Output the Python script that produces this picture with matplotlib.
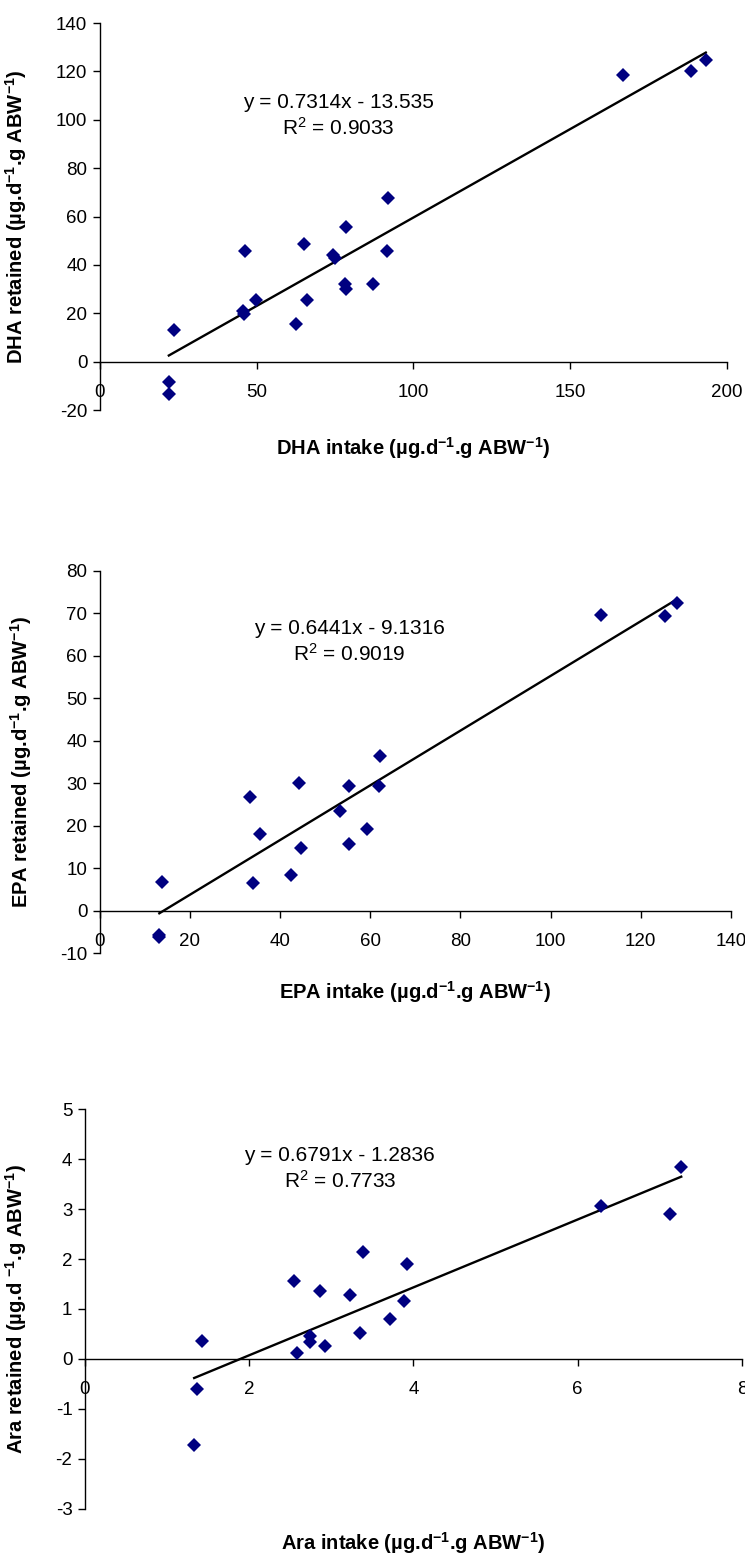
"""Retained vs intake of DHA, EPA and Ara with linear fits."""

import matplotlib

matplotlib.use("Agg")
import matplotlib.pyplot as plt
import numpy as np

plt.rcParams["font.family"] = ["Liberation Sans", "DejaVu Sans"]
plt.rcParams["mathtext.default"] = "regular"
plt.rcParams["axes.unicode_minus"] = False

# DHA (ug per day per g ABW)
dha_intake = [22.0, 22.0, 23.7, 46.4, 46.1, 45.5, 49.7, 62.7, 65.2, 66.0, 75.0,
              74.5, 78.5, 78.5, 78.3, 87.1, 91.6, 92.0, 166.8, 188.6, 193.2]
dha_retained = [-8.6, -13.2, 13.2, 45.7, 19.8, 21.0, 25.3, 15.4, 48.5, 25.3, 42.8,
                44.0, 55.5, 30.2, 32.0, 32.3, 45.7, 67.5, 118.4, 120.1, 124.7]
dha_fit = (0.7314, -13.535, 0.9033)

# EPA
epa_intake = [13.2, 13.2, 13.8, 33.3, 33.9, 35.6, 42.4, 44.1, 44.7, 53.2, 55.3,
              55.3, 59.2, 61.9, 62.2, 111.1, 125.4, 128.0]
epa_retained = [-5.7, -6.3, 6.8, 26.8, 6.4, 18.0, 8.4, 30.1, 14.8, 23.5, 29.3,
                15.7, 19.2, 29.3, 36.4, 69.6, 69.4, 72.4]
epa_fit = (0.6441, -9.1316, 0.9019)

# Ara
ara_intake = [1.33, 1.37, 1.42, 2.55, 2.58, 2.74, 2.74, 2.86, 2.92, 3.23, 3.35,
              3.39, 3.72, 3.88, 3.92, 6.28, 7.12, 7.26]
ara_retained = [-1.72, -0.61, 0.35, 1.57, 0.11, 0.46, 0.33, 1.36, 0.25, 1.28, 0.51,
                2.15, 0.79, 1.17, 1.91, 3.06, 2.91, 3.85]
ara_fit = (0.6791, -1.2836, 0.7733)

panels = [
    dict(x=dha_intake, y=dha_retained, fit=dha_fit, xlim=(0, 200), ylim=(-20, 140),
         xticks=np.arange(0, 201, 50), yticks=np.arange(-20, 141, 20),
         xlabel="DHA intake (µg.d$^{-1}$.g ABW$^{-1}$)",
         ylabel="DHA retained (µg.d$^{-1}$.g ABW$^{-1}$)",
         rect=[0.134, 0.7363, 0.842, 0.2489], eq_pos=(0.38, 0.76),
         xlab_y=448, ylab_x=16),
    dict(x=epa_intake, y=epa_retained, fit=epa_fit, xlim=(0, 140), ylim=(-10, 80),
         xticks=np.arange(0, 141, 20), yticks=np.arange(-10, 81, 10),
         xlabel="EPA intake (µg.d$^{-1}$.g ABW$^{-1}$)",
         ylabel="EPA retained (µg.d$^{-1}$.g ABW$^{-1}$)",
         rect=[0.134, 0.3871, 0.847, 0.2457], eq_pos=(0.396, 0.815),
         xlab_y=992, ylab_x=21),
    dict(x=ara_intake, y=ara_retained, fit=ara_fit, xlim=(0, 8), ylim=(-3, 5),
         xticks=np.arange(0, 9, 2), yticks=np.arange(-3, 6, 1),
         xlabel="Ara intake (µg.d$^{-1}$.g ABW$^{-1}$)",
         ylabel="Ara retained (µg.d $^{-1}$.g ABW$^{-1}$)",
         rect=[0.114, 0.0296, 0.882, 0.2572], eq_pos=(0.388, 0.85),
         xlab_y=1543, ylab_x=16),
]

W, H = 745, 1555
fig = plt.figure(figsize=(W / 100, H / 100), dpi=100)

for p in panels:
    ax = fig.add_axes(p["rect"])
    slope, icpt, r2 = p["fit"]
    xs = np.array([min(p["x"]), max(p["x"])])
    ax.plot(xs, slope * xs + icpt, color="black", lw=1.7, zorder=2)
    ax.plot(p["x"], p["y"], "D", color="#000080", ms=7.5, mew=0, zorder=3)

    ax.set_xlim(*p["xlim"])
    ax.set_ylim(*p["ylim"])
    ax.set_xticks(p["xticks"])
    ax.set_yticks(p["yticks"])
    ax.spines["top"].set_visible(False)
    ax.spines["right"].set_visible(False)
    ax.spines["bottom"].set_position(("data", 0))
    for s in ("left", "bottom"):
        ax.spines[s].set_linewidth(1.0)
    ax.tick_params(direction="out", length=5, width=1.0, labelsize=13.5, pad=4)
    ax.tick_params(axis="x", pad=11)

    eq = f"y = {slope}x - {abs(icpt)}\nR$^2$ = {r2}"
    ax.text(*p["eq_pos"], eq, transform=ax.transAxes, ha="center", va="center",
            fontsize=15, linespacing=1.3)

    fig.text(p["rect"][0] + p["rect"][2] / 2, 1 - p["xlab_y"] / H, p["xlabel"],
             ha="center", va="center", fontsize=14.5, fontweight="bold")
    fig.text(p["ylab_x"] / W, p["rect"][1] + p["rect"][3] / 2, p["ylabel"],
             ha="center", va="center", rotation=90, fontsize=14.5, fontweight="bold")

fig.savefig("out.png", dpi=100)
